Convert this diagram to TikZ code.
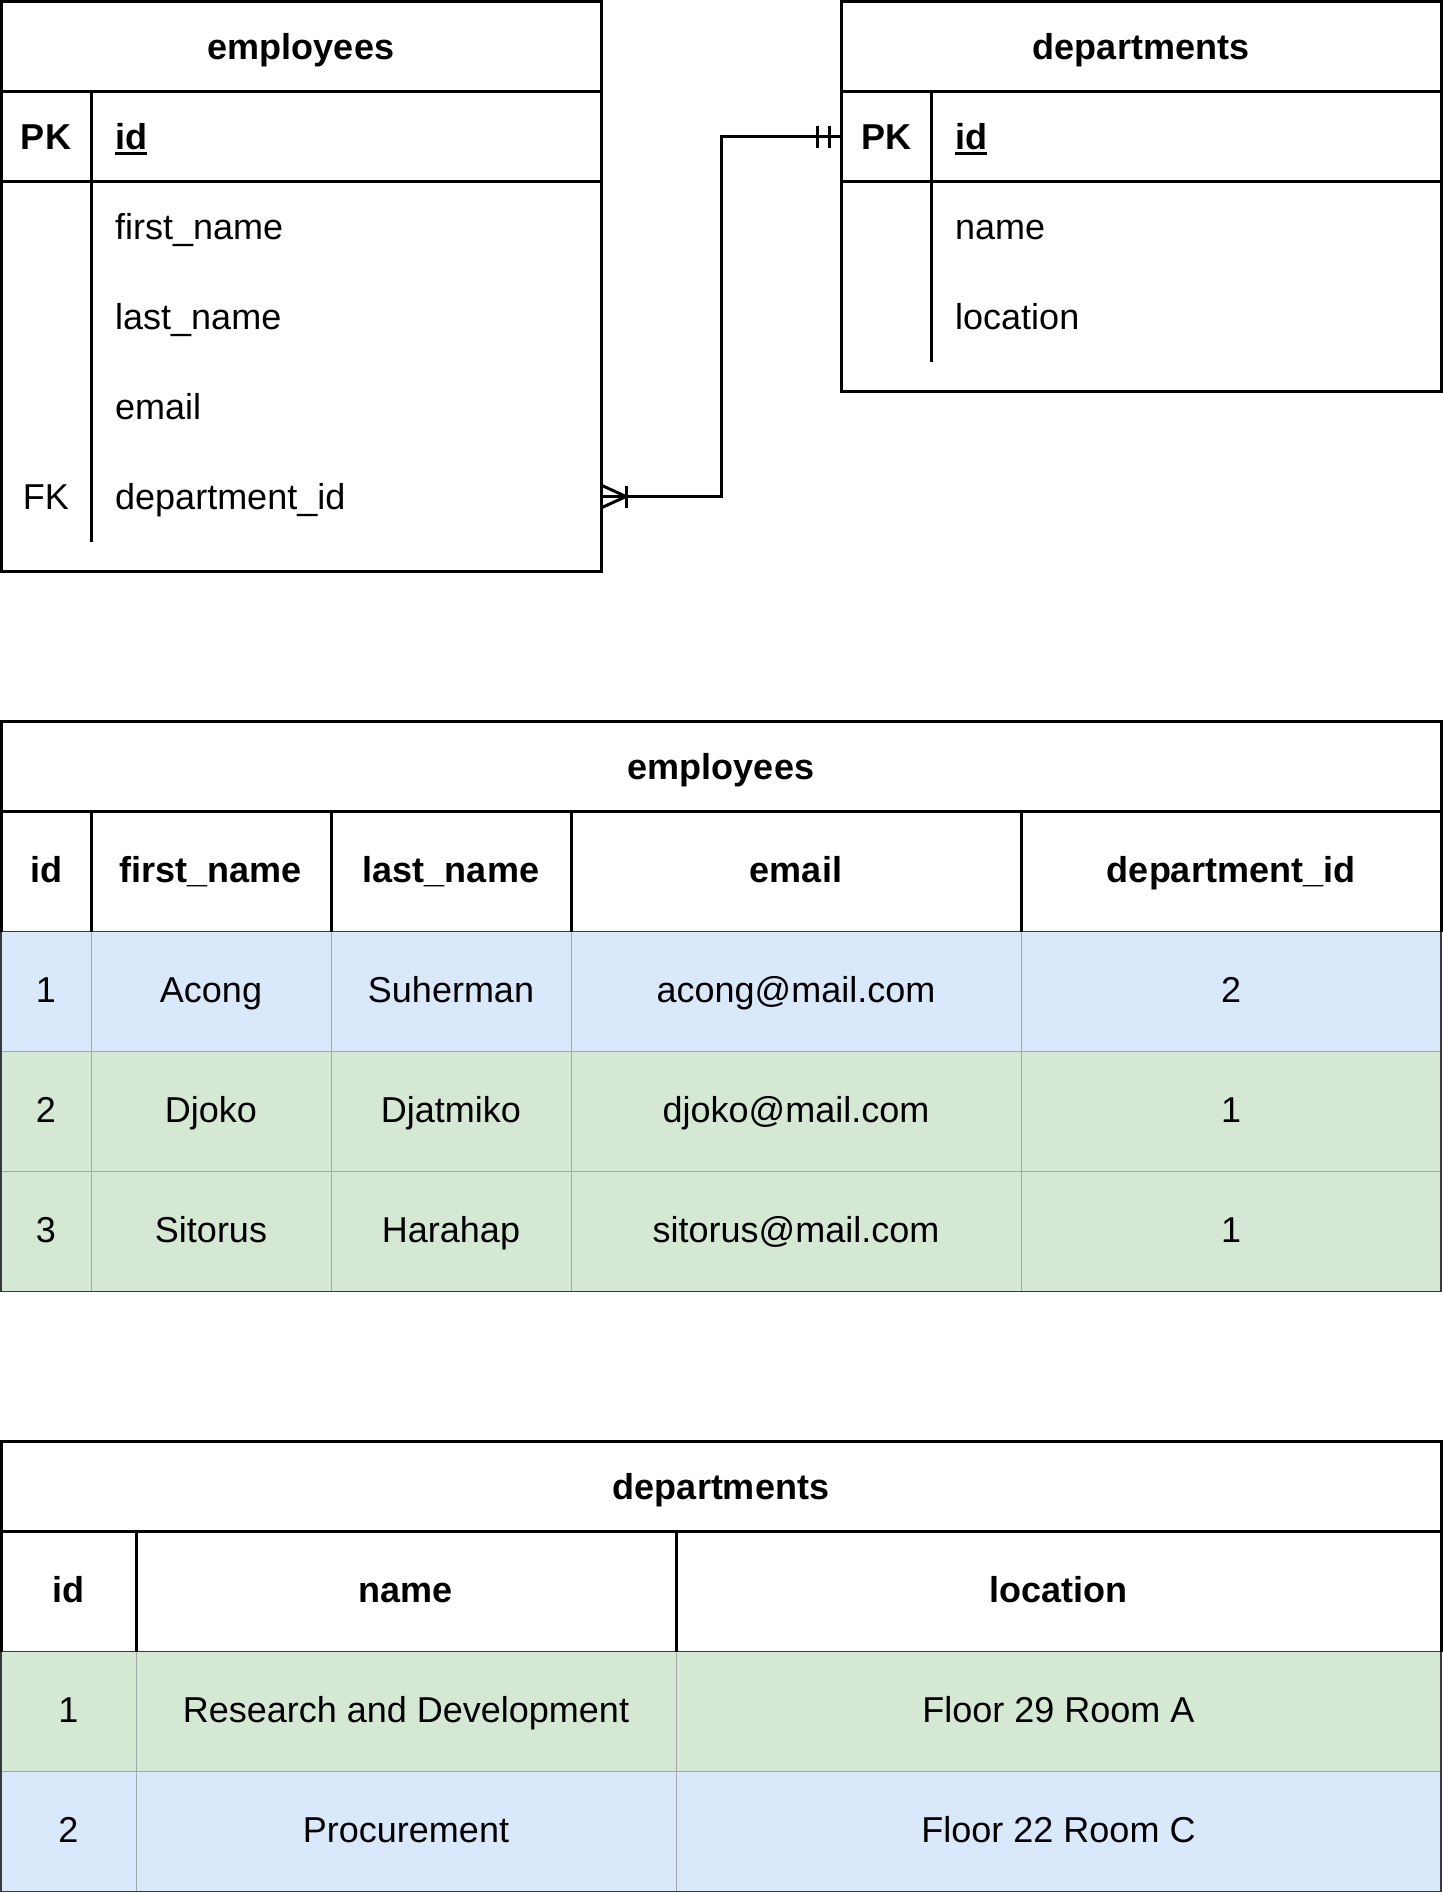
\documentclass[tikz,border=0pt]{standalone}
\usepackage{fontspec}
\usetikzlibrary{calc}
\setmainfont{Liberation Sans}
\definecolor{rowblue}{HTML}{DAE8FC}
\definecolor{rowgreen}{HTML}{D5E8D4}
\definecolor{gridgray}{HTML}{A3A8AD}
\definecolor{edgegray}{HTML}{36393D}
\newcommand\myul[1]{\setbox0\hbox{#1}\rlap{\rule[-6pt]{\wd0}{3pt}}\box0}
\tikzset{
  txt/.style={font=\fontsize{36}{43}\selectfont, inner sep=0pt, anchor=base},
  btxt/.style={font=\fontsize{36}{43}\selectfont\bfseries, inner sep=0pt, anchor=base},
  ltxt/.style={txt, anchor=base west},
  lbtxt/.style={btxt, anchor=base west},
  thickline/.style={line width=3pt, draw=black},
  gridline/.style={line width=1pt, draw=gridgray},
  edgeline/.style={line width=1.5pt, draw=edgegray},
  relline/.style={line width=3pt, draw=black},
}
\begin{document}
\begin{tikzpicture}[x=1pt, y=-1pt]
\useasboundingbox (0,0) rectangle (1443,1893);
\begin{scope}[shift={(1,1.5)}]
% ---------- ERD: employees ----------
\draw[thickline] (0,0) rectangle (600,570);
\draw[thickline] (0,90) -- (600,90);
\draw[thickline] (0,180) -- (600,180);
\draw[thickline] (90,90) -- (90,540);
\node[btxt] (eT) at (300,58) {employees};
\node[btxt] (ePK) at (45,147.5) {PK};
\node[lbtxt] (eId) at (114,147.5) {\myul{id}};
\node[ltxt] (eFn) at (114,238) {first\_name};
\node[ltxt] (eLn) at (114,328) {last\_name};
\node[ltxt] (eEm) at (114,418) {email};
\node[txt] (eFK) at (45,508) {FK};
\node[ltxt] (eDi) at (114,508) {department\_id};
% ---------- ERD: departments ----------
\draw[thickline] (840,0) rectangle (1440,390);
\draw[thickline] (840,90) -- (1440,90);
\draw[thickline] (840,180) -- (1440,180);
\draw[thickline] (930,90) -- (930,360);
\node[btxt] (dT) at (1140,58) {departments};
\node[btxt] (dPK) at (885,147.5) {PK};
\node[lbtxt] (dId) at (954,147.5) {\myul{id}};
\node[ltxt] (dNm) at (954,238) {name};
\node[ltxt] (dLc) at (954,328) {location};
% ---------- relationship ----------
\coordinate (efk) at (600,495);
\coordinate (dpk) at (840,135);
\draw[relline] (efk) -- ++(120,0) |- (dpk);
% crow's foot (one-to-many) at employees
\draw[relline] ($(efk)+(1,-11)$) -- ($(efk)+(25,0)$) -- ($(efk)+(1,11)$);
\draw[relline] ($(efk)+(25,-11)$) -- ($(efk)+(25,11)$);
% mandatory one at departments
\draw[relline] ($(dpk)+(-24,-11)$) -- ($(dpk)+(-24,11)$);
\draw[relline] ($(dpk)+(-12,-11)$) -- ($(dpk)+(-12,11)$);
% ---------- Data table: employees ----------
\fill[rowblue] (0,930) rectangle (1440,1050);
\fill[rowgreen] (0,1050) rectangle (1440,1290);
\foreach \y in {1050,1170} \draw[gridline] (0,\y) -- (1440,\y);
\foreach \x in {90,330,570,1020} \draw[gridline] (\x,930) -- (\x,1290);
\draw[edgeline] (0,930) rectangle (1440,1290);
\draw[thickline] (0,720) rectangle (1440,810);
\foreach \x in {0,90,330,570,1020,1440} \draw[thickline] (\x,810) -- (\x,930);
\node[btxt] (t1T) at (720,777.5) {employees};
\node[btxt] (t1h1) at (45,880.5) {id};
\node[btxt] (t1h2) at (210,880.5) {first\_name};
\node[btxt] (t1h3) at (450,880.5) {last\_name};
\node[btxt] (t1h4) at (795,880.5) {email};
\node[btxt] (t1h5) at (1230,880.5) {department\_id};
\node[txt] (t1a1) at (45,1000.5) {1};
\node[txt] (t1a2) at (210,1000.5) {Acong};
\node[txt] (t1a3) at (450,1000.5) {Suherman};
\node[txt] (t1a4) at (795,1000.5) {acong@mail.com};
\node[txt] (t1a5) at (1230,1000.5) {2};
\node[txt] (t1b1) at (45,1120.5) {2};
\node[txt] (t1b2) at (210,1120.5) {Djoko};
\node[txt] (t1b3) at (450,1120.5) {Djatmiko};
\node[txt] (t1b4) at (795,1120.5) {djoko@mail.com};
\node[txt] (t1b5) at (1230,1120.5) {1};
\node[txt] (t1c1) at (45,1240.5) {3};
\node[txt] (t1c2) at (210,1240.5) {Sitorus};
\node[txt] (t1c3) at (450,1240.5) {Harahap};
\node[txt] (t1c4) at (795,1240.5) {sitorus@mail.com};
\node[txt] (t1c5) at (1230,1240.5) {1};
% ---------- Data table: departments ----------
\fill[rowgreen] (0,1650) rectangle (1440,1770);
\fill[rowblue] (0,1770) rectangle (1440,1890);
\draw[gridline] (0,1770) -- (1440,1770);
\foreach \x in {135,675} \draw[gridline] (\x,1650) -- (\x,1890);
\draw[edgeline] (0,1650) rectangle (1440,1890);
\draw[thickline] (0,1440) rectangle (1440,1530);
\foreach \x in {0,135,675,1440} \draw[thickline] (\x,1530) -- (\x,1650);
\node[btxt] (t2T) at (720,1497.5) {departments};
\node[btxt] (t2h1) at (67.5,1600.5) {id};
\node[btxt] (t2h2) at (405,1600.5) {name};
\node[btxt] (t2h3) at (1057.5,1600.5) {location};
\node[txt] (t2a1) at (67.5,1720.5) {1};
\node[txt] (t2a2) at (405,1720.5) {Research and Development};
\node[txt] (t2a3) at (1057.5,1720.5) {Floor 29 Room A};
\node[txt] (t2b1) at (67.5,1840.5) {2};
\node[txt] (t2b2) at (405,1840.5) {Procurement};
\node[txt] (t2b3) at (1057.5,1840.5) {Floor 22 Room C};
\end{scope}
\end{tikzpicture}
\end{document}
